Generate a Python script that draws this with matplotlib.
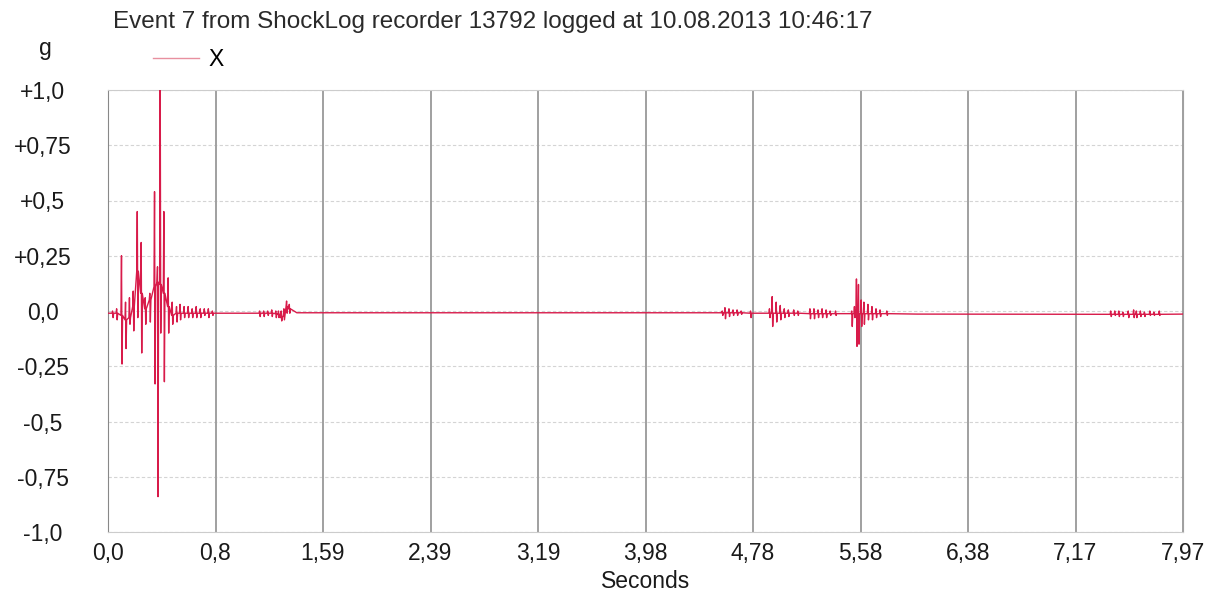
import matplotlib
matplotlib.use("Agg")
import matplotlib.pyplot as plt
import numpy as np

plt.rcParams['font.family'] = ['Liberation Sans', 'DejaVu Sans']

# quiet stretches of the trace (seconds, g)
base_t = [0.0, 0.8, 1.1, 1.4, 2.6, 4.5, 4.85, 5.45, 6.0, 7.4, 7.97]
base_v = [-0.01, -0.01, -0.01, -0.008, -0.008, -0.008, -0.01, -0.012, -0.014, -0.015, -0.014]

# spikes: time, peak, trough, level around the spike
spike_t = [0.03, 0.06, 0.096, 0.126, 0.155, 0.183, 0.213, 0.242, 0.272, 0.306,
           0.341, 0.363, 0.383, 0.41, 0.442, 0.472, 0.504, 0.53, 0.56, 0.59,
           0.62, 0.65, 0.68, 0.71, 0.74, 0.77,
           1.12, 1.15, 1.18, 1.21, 1.24, 1.26, 1.28, 1.30, 1.32, 1.34,
           4.55, 4.57, 4.60, 4.63, 4.66, 4.69, 4.76, 4.90, 4.92, 4.95, 4.98,
           5.01, 5.04, 5.08, 5.11, 5.20, 5.23, 5.26, 5.29, 5.32, 5.35, 5.39,
           5.51, 5.53, 5.545, 5.56, 5.58, 5.60, 5.63, 5.66, 5.69, 5.72, 5.77,
           7.43, 7.46, 7.49, 7.52, 7.56, 7.60, 7.62, 7.65, 7.68, 7.72, 7.75, 7.79]
spike_hi = [0.0, 0.01, 0.25, 0.04, 0.06, 0.09, 0.45, 0.31, 0.06, 0.08,
            0.54, 0.2, 1.05, 0.45, 0.15, 0.04, 0.02, 0.03, 0.02, 0.02,
            0.01, 0.02, 0.01, 0.01, 0.01, 0.0,
            0.0, 0.0, 0.0, 0.005, 0.0, 0.0, 0.0, 0.01, 0.045, 0.03,
            0.0, 0.015, 0.01, 0.005, 0.005, 0.0, 0.0, 0.01, 0.065, 0.04, 0.025,
            0.01, 0.005, 0.005, 0.0, 0.01, 0.01, 0.005, 0.01, 0.005, 0.0, 0.0,
            0.0, 0.02, 0.145, 0.12, 0.05, 0.04, 0.03, 0.02, 0.01, 0.005, 0.0,
            0.0, 0.0, 0.0, -0.005, 0.0, 0.005, 0.0, 0.0, -0.005, 0.0, -0.005, 0.0]
spike_lo = [-0.03, -0.04, -0.24, -0.17, -0.06, -0.09, -0.03, -0.19, -0.06, -0.05,
            -0.33, -0.84, -0.1, -0.32, -0.1, -0.06, -0.05, -0.04, -0.03, -0.03,
            -0.03, -0.03, -0.03, -0.02, -0.03, -0.02,
            -0.025, -0.025, -0.02, -0.025, -0.03, -0.03, -0.045, -0.04, -0.01, -0.01,
            -0.02, -0.035, -0.025, -0.02, -0.02, -0.015, -0.03, -0.03, -0.07, -0.05, -0.04,
            -0.03, -0.025, -0.02, -0.02, -0.035, -0.035, -0.03, -0.03, -0.03, -0.02, -0.02,
            -0.07, -0.03, -0.16, -0.15, -0.07, -0.06, -0.04, -0.04, -0.03, -0.025, -0.02,
            -0.025, -0.02, -0.025, -0.025, -0.03, -0.03, -0.03, -0.025, -0.025, -0.02, -0.02, -0.02]
spike_mid = [-0.01, -0.01, -0.02, -0.04, -0.03, 0.02, 0.18, 0.08, 0.01, 0.05,
             0.11, 0.13, 0.12, 0.08, 0.02, -0.02, -0.01, -0.01, -0.01, -0.01,
             -0.01, -0.01, -0.01, -0.01, -0.01, -0.01,
             -0.01, -0.01, -0.01, -0.01, -0.012, -0.015, -0.03, -0.02, 0.02, 0.01,
             -0.008, -0.008, -0.008, -0.008, -0.008, -0.008, -0.01, -0.01, -0.01, -0.01, -0.01,
             -0.01, -0.01, -0.01, -0.01, -0.012, -0.012, -0.012, -0.012, -0.012, -0.012, -0.012,
             -0.012, -0.012, -0.012, -0.012, -0.012, -0.012, -0.012, -0.012, -0.012, -0.012, -0.012,
             -0.015, -0.015, -0.015, -0.015, -0.015, -0.015, -0.015, -0.015, -0.015, -0.015, -0.015, -0.015]

x_ticks = [0.0, 0.797, 1.594, 2.391, 3.188, 3.985, 4.782, 5.579, 6.376, 7.173, 7.97]
x_labels = ["0,0", "0,8", "1,59", "2,39", "3,19", "3,98", "4,78", "5,58", "6,38", "7,17", "7,97"]
y_ticks = [1.0, 0.75, 0.5, 0.25, 0.0, -0.25, -0.5, -0.75, -1.0]
y_labels = ["+1,0", "+0,75", "+0,5", "+0,25", "0,0", "-0,25", "-0,5", "-0,75", "-1,0"]

# build the polyline
pts = list(zip(base_t, base_v))
dt = 0.004
for t, hi, lo, mid in zip(spike_t, spike_hi, spike_lo, spike_mid):
    pts += [(t, mid), (t + dt, hi), (t + 2 * dt, lo), (t + 3 * dt, mid)]
pts.sort(key=lambda p: p[0])
tt = np.array([p[0] for p in pts])
vv = np.array([p[1] for p in pts])

fig = plt.figure(figsize=(12.07, 5.95), dpi=100)
ax = fig.add_axes([108 / 1207, 1 - 532 / 595, (1183 - 108) / 1207, (532 - 90) / 595])

for yt in y_ticks:
    ax.axhline(yt, color="#d4d4d4", lw=0.8, ls=(0, (3, 2)), zorder=1)
for xt in x_ticks:
    ax.axvline(xt, color="#a0a0a0", lw=1.4, zorder=1)

ax.plot(tt, vv, color="#d81b4a", lw=1.0, zorder=3, label="X")

ax.set_xlim(0, 7.97)
ax.set_ylim(-1.0, 1.0)
ax.set_xticks(x_ticks)
ax.set_xticklabels(x_labels)
ax.set_yticks(y_ticks)
ax.set_yticklabels(y_labels, ha="center")
ax.tick_params(axis="y", length=0, pad=47, labelsize=16.5, labelcolor="#1a1a1a")
ax.tick_params(axis="x", length=0, pad=7, labelsize=16.5, labelcolor="#1a1a1a")
for s in ["top", "bottom"]:
    ax.spines[s].set_color("#cccccc")
ax.spines["left"].set_color("#888888")
ax.spines["right"].set_color("#a0a0a0")

ax.set_xlabel("Seconds", fontsize=16.5, color="#1a1a1a", labelpad=4)

fig.text(113 / 1207, 1 - 22 / 595, "Event 7 from ShockLog recorder 13792 logged at 10.08.2013 10:46:17",
         fontsize=17.5, color="#2a2a2a", ha="left", va="center")
fig.text(45 / 1207, 1 - 48 / 595, "g", fontsize=16.5, color="#1a1a1a", ha="center", va="center")
leg = ax.legend(loc="center left", bbox_to_anchor=(153 / 1207, 1 - 60 / 595), bbox_transform=fig.transFigure,
                frameon=False, handlelength=2.0, handletextpad=0.4, borderpad=0, borderaxespad=0, fontsize=16.5)
for h in leg.get_lines():
    h.set_color("#e8909f")
    h.set_linewidth(1.0)

fig.savefig("out.png", dpi=100)
